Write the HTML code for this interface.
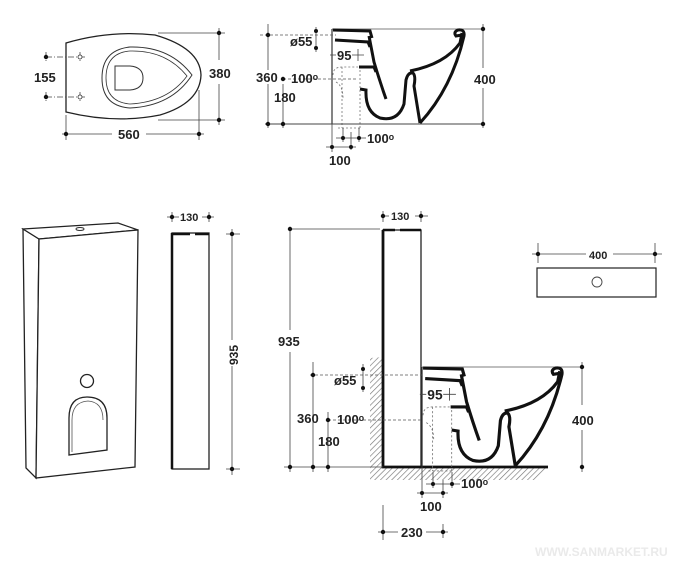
<!DOCTYPE html>
<html><head><meta charset="utf-8"><style>
html,body{margin:0;padding:0;background:#fff;}
svg{display:block;}
text{font-family:"Liberation Sans",sans-serif;font-weight:bold;font-size:13px;fill:#222;}
</style></head><body>
<svg width="686" height="566" viewBox="0 0 686 566" xmlns="http://www.w3.org/2000/svg">
<defs>
<pattern id="h" width="4" height="4" patternUnits="userSpaceOnUse" patternTransform="rotate(45)">
<rect width="4" height="4" fill="#fff"/><line x1="0" y1="0" x2="0" y2="4" stroke="#777" stroke-width="1.3"/></pattern>
<g id="bowl">
<line x1="332" y1="29" x2="483" y2="29" stroke="#555" stroke-width="0.8"/>
<path d="M333,30 L370,31 L372,38" fill="none" stroke="#111" stroke-width="3"/>
<path d="M335,40 L368,42 L370,47" fill="none" stroke="#111" stroke-width="3"/>
<path d="M369,36 L374,62 Q380,82 386,99" fill="none" stroke="#111" stroke-width="3"/>
<path d="M359,67 L374,67 L376,72" fill="none" stroke="#111" stroke-width="3"/>
<path d="M360,89 L366,90 Q365,112 380,118 Q398,122 404,104 L406,80 Q408,72 413,73 Q416,76 414,86 L420,123" fill="none" stroke="#111" stroke-width="3"/>
<path d="M410,71 Q445,64 460,43 L462,33" fill="none" stroke="#111" stroke-width="3"/>
<path d="M420,123 Q452,88 464,36 Q465,29 458,30 Q453,32 456,36 L462,35" fill="none" stroke="#111" stroke-width="3"/>
<path d="M332,29 L332,124" stroke="#333" stroke-width="1.2"/>
<path d="M333,75 Q333,67 342,67 L358,67 M342,67 L342,128 M360,70 L360,128 M336,82 Q343,86 343,98 M338,128 L360,128" fill="none" stroke="#777" stroke-width="0.8" stroke-dasharray="2,2"/>
<path d="M330,55 L336,55 M352,55 L364,55 M358,49 L358,61" stroke="#444" stroke-width="0.8"/>
<text x="337" y="60">95</text>
</g>
</defs>

<!-- top-left plan -->
<path d="M66,43 Q110,30 155,35 Q200,48 201,75 Q200,103 160,115 Q115,124 66,112 Z" fill="#fff" stroke="#222" stroke-width="1.3"/>
<path d="M102,78 Q102,50 130,47 Q170,46 192,75 Q172,106 130,108 Q102,106 102,78 Z" fill="none" stroke="#333" stroke-width="1"/>
<path d="M106,78 Q106,53 130,51 Q166,50 187,76 Q168,102 130,104 Q106,102 106,78 Z" fill="none" stroke="#333" stroke-width="0.8"/>
<path d="M115,66 L130,66 Q143,67 143,78 Q143,89 130,90 L115,90 Z" fill="none" stroke="#333" stroke-width="1"/>
<path d="M46,57 L85,57 M46,97 L85,97 M80,52 L80,62 M80,92 L80,102 M46,52 L46,62 M46,92 L46,102" stroke="#444" stroke-width="0.8" stroke-dasharray="6,2,1,2"/>
<circle cx="46" cy="57" r="2.2" fill="#111"/><circle cx="46" cy="97" r="2.2" fill="#111"/>
<circle cx="80" cy="57" r="2" fill="#fff" stroke="#333" stroke-width="0.8"/><circle cx="80" cy="97" r="2" fill="#fff" stroke="#333" stroke-width="0.8"/>
<text x="34" y="82">155</text>
<path d="M158,33 L225,33 M158,120 L225,120 M219,28 L219,60 M219,84 L219,125 M66,115 L66,140 M199,90 L199,140 M62,134 L112,134 M146,134 L204,134" stroke="#444" stroke-width="0.8"/>
<circle cx="219" cy="33" r="2.2" fill="#111"/><circle cx="219" cy="120" r="2.2" fill="#111"/>
<circle cx="66" cy="134" r="2.2" fill="#111"/><circle cx="199" cy="134" r="2.2" fill="#111"/>
<text x="209" y="78">380</text><text x="118" y="139">560</text>

<!-- top side view -->
<use href="#bowl"/>
<path d="M265,124 L483,124" stroke="#444" stroke-width="0.9"/>
<path d="M483,24 L483,68 M483,88 L483,128" stroke="#444" stroke-width="0.8"/>
<circle cx="483" cy="29" r="2.2" fill="#111"/><circle cx="483" cy="124" r="2.2" fill="#111"/>
<text x="474" y="84">400</text>
<path d="M260,35 L336,35 M283,79 L358,79" stroke="#555" stroke-width="0.8" stroke-dasharray="3,2"/>
<path d="M268,24 L268,70 M268,84 L268,128 M283,84 L283,128 M316,27 L316,52" stroke="#444" stroke-width="0.8"/>
<circle cx="268" cy="35" r="2.2" fill="#111"/><circle cx="268" cy="124" r="2.2" fill="#111"/>
<circle cx="283" cy="79" r="2.2" fill="#111"/><circle cx="283" cy="124" r="2.2" fill="#111"/>
<circle cx="316" cy="31" r="2" fill="#111"/><circle cx="316" cy="48" r="2" fill="#111"/>
<text x="290" y="46">ø55</text><text x="256" y="82">360</text><text x="291" y="83">100ᵒ</text><text x="274" y="102">180</text>
<path d="M336,138 L366,138 M326,147 L356,147 M332,124 L332,152 M351,132 L351,150 M343,128 L343,142 M359,128 L359,142" stroke="#444" stroke-width="0.8"/>
<circle cx="343" cy="138" r="2" fill="#111"/><circle cx="359" cy="138" r="2" fill="#111"/>
<circle cx="332" cy="147" r="2" fill="#111"/><circle cx="351" cy="147" r="2" fill="#111"/>
<text x="367" y="143">100ᵒ</text><text x="329" y="165">100</text>

<!-- cabinet 3D -->
<polygon points="23,229 39,239 36,478 26,468" fill="#fff" stroke="#222" stroke-width="1.3"/>
<polygon points="23,229 118,223 138,230 39,239" fill="#fff" stroke="#222" stroke-width="1.2"/>
<line x1="40" y1="241" x2="137" y2="233" stroke="#555" stroke-width="0.8"/>
<polygon points="39,239 138,230 135,467 36,478" fill="#fff" stroke="#222" stroke-width="1.3"/>
<ellipse cx="80" cy="229" rx="4" ry="1.5" fill="none" stroke="#333" stroke-width="1"/>
<circle cx="87" cy="381" r="6.5" fill="#fff" stroke="#222" stroke-width="1.3"/>
<path d="M69,455 L69,418 Q69,397 87,397 Q107,397 107,418 L107,450 Z" fill="#fff" stroke="#222" stroke-width="1.3"/>
<path d="M72,452 L72,420 Q72,402 88,401 Q103,402 103,420" fill="none" stroke="#555" stroke-width="0.8"/>

<!-- narrow side panel -->
<rect x="172" y="233" width="37" height="236" fill="#fff" stroke="#222" stroke-width="1.3"/>
<path d="M172,233 L172,469 M172,234 L190,234 M195,234 L209,234" stroke="#111" stroke-width="2.5"/>
<path d="M167,217 L214,217 M172,212 L172,222 M209,212 L209,222" stroke="#444" stroke-width="0.8"/>
<circle cx="172" cy="217" r="2.2" fill="#111"/><circle cx="209" cy="217" r="2.2" fill="#111"/>
<rect x="179" y="210" width="23" height="13" fill="#fff"/><text x="180" y="221" style="font-size:11px">130</text>
<path d="M232,229 L232,475 M226,234 L240,234 M226,469 L240,469" stroke="#444" stroke-width="0.8"/>
<circle cx="232" cy="234" r="2.2" fill="#111"/><circle cx="232" cy="469" r="2.2" fill="#111"/>
<rect x="227" y="340" width="12" height="26" fill="#fff"/>
<text transform="translate(238,365) rotate(-90)" style="font-size:12px">935</text>

<!-- bottom side view -->
<polygon points="370,358 383,357 383,467 547,467 538,480 370,480" fill="url(#h)"/>
<rect x="383" y="230" width="38" height="237" fill="#fff" stroke="#222" stroke-width="1.3"/>
<path d="M383,230 L395,230 M400,230 L421,230" stroke="#111" stroke-width="2.5"/>
<path d="M383,230 L383,467 L548,467" fill="none" stroke="#111" stroke-width="2.8"/>
<use href="#bowl" transform="translate(422,367) scale(1.06,1.05) translate(-332,-29)"/>
<path d="M381,216 L428,216 M383,211 L383,222 M421,211 L421,222" stroke="#444" stroke-width="0.8"/>
<circle cx="383" cy="216" r="2.2" fill="#111"/><circle cx="421" cy="216" r="2.2" fill="#111"/>
<rect x="389" y="209" width="26" height="13" fill="#fff"/><text x="391" y="220" style="font-size:11px">130</text>
<path d="M290,229 L380,229 M290,229 L290,330 M290,352 L290,472 M284,467 L383,467 M582,362 L582,405 M582,430 L582,472" stroke="#444" stroke-width="0.8"/>
<circle cx="290" cy="229" r="2.2" fill="#111"/><circle cx="290" cy="467" r="2.2" fill="#111"/>
<circle cx="582" cy="367" r="2.2" fill="#111"/><circle cx="582" cy="467" r="2.2" fill="#111"/>
<text x="278" y="346">935</text><text x="572" y="425">400</text>
<path d="M310,375 L422,375 M328,420 L422,420" stroke="#555" stroke-width="0.8" stroke-dasharray="3,2"/>
<path d="M313,362 L313,472 M328,412 L328,472 M363,364 L363,392" stroke="#444" stroke-width="0.8"/>
<circle cx="313" cy="375" r="2.2" fill="#111"/><circle cx="313" cy="467" r="2.2" fill="#111"/>
<circle cx="328" cy="420" r="2.2" fill="#111"/><circle cx="328" cy="467" r="2.2" fill="#111"/>
<circle cx="363" cy="369" r="2" fill="#111"/><circle cx="363" cy="388" r="2" fill="#111"/>
<text x="334" y="385">ø55</text><text x="297" y="423">360</text><text x="337" y="424">100ᵒ</text><text x="318" y="446">180</text>
<path d="M426,484 L460,484 M417,493 L448,493 M422,467 L422,498 M443,480 L443,498 M433,472 L433,488 M452,472 L452,488 M383,505 L383,540 M378,532 L398,532 M426,532 L448,532 M443,524 L443,538" stroke="#444" stroke-width="0.8"/>
<circle cx="433" cy="484" r="2" fill="#111"/><circle cx="452" cy="484" r="2" fill="#111"/>
<circle cx="422" cy="493" r="2" fill="#111"/><circle cx="443" cy="493" r="2" fill="#111"/>
<circle cx="383" cy="532" r="2.2" fill="#111"/><circle cx="443" cy="532" r="2.2" fill="#111"/>
<text x="461" y="488">100ᵒ</text><text x="420" y="511">100</text><text x="401" y="537">230</text>

<!-- top-right box -->
<path d="M532,254 L586,254 M613,254 L662,254 M538,243 L538,263 M655,243 L655,263" stroke="#444" stroke-width="0.8"/>
<circle cx="538" cy="254" r="2.2" fill="#111"/><circle cx="655" cy="254" r="2.2" fill="#111"/>
<text x="589" y="259" style="font-size:11px">400</text>
<rect x="537" y="268" width="119" height="29" fill="#fff" stroke="#222" stroke-width="1.2"/>
<circle cx="597" cy="282" r="5" fill="#fff" stroke="#444" stroke-width="0.9"/>

<text x="535" y="556" style="font-size:12px;fill:#eaeaea">WWW.SANMARKET.RU</text>
</svg>
</body></html>
